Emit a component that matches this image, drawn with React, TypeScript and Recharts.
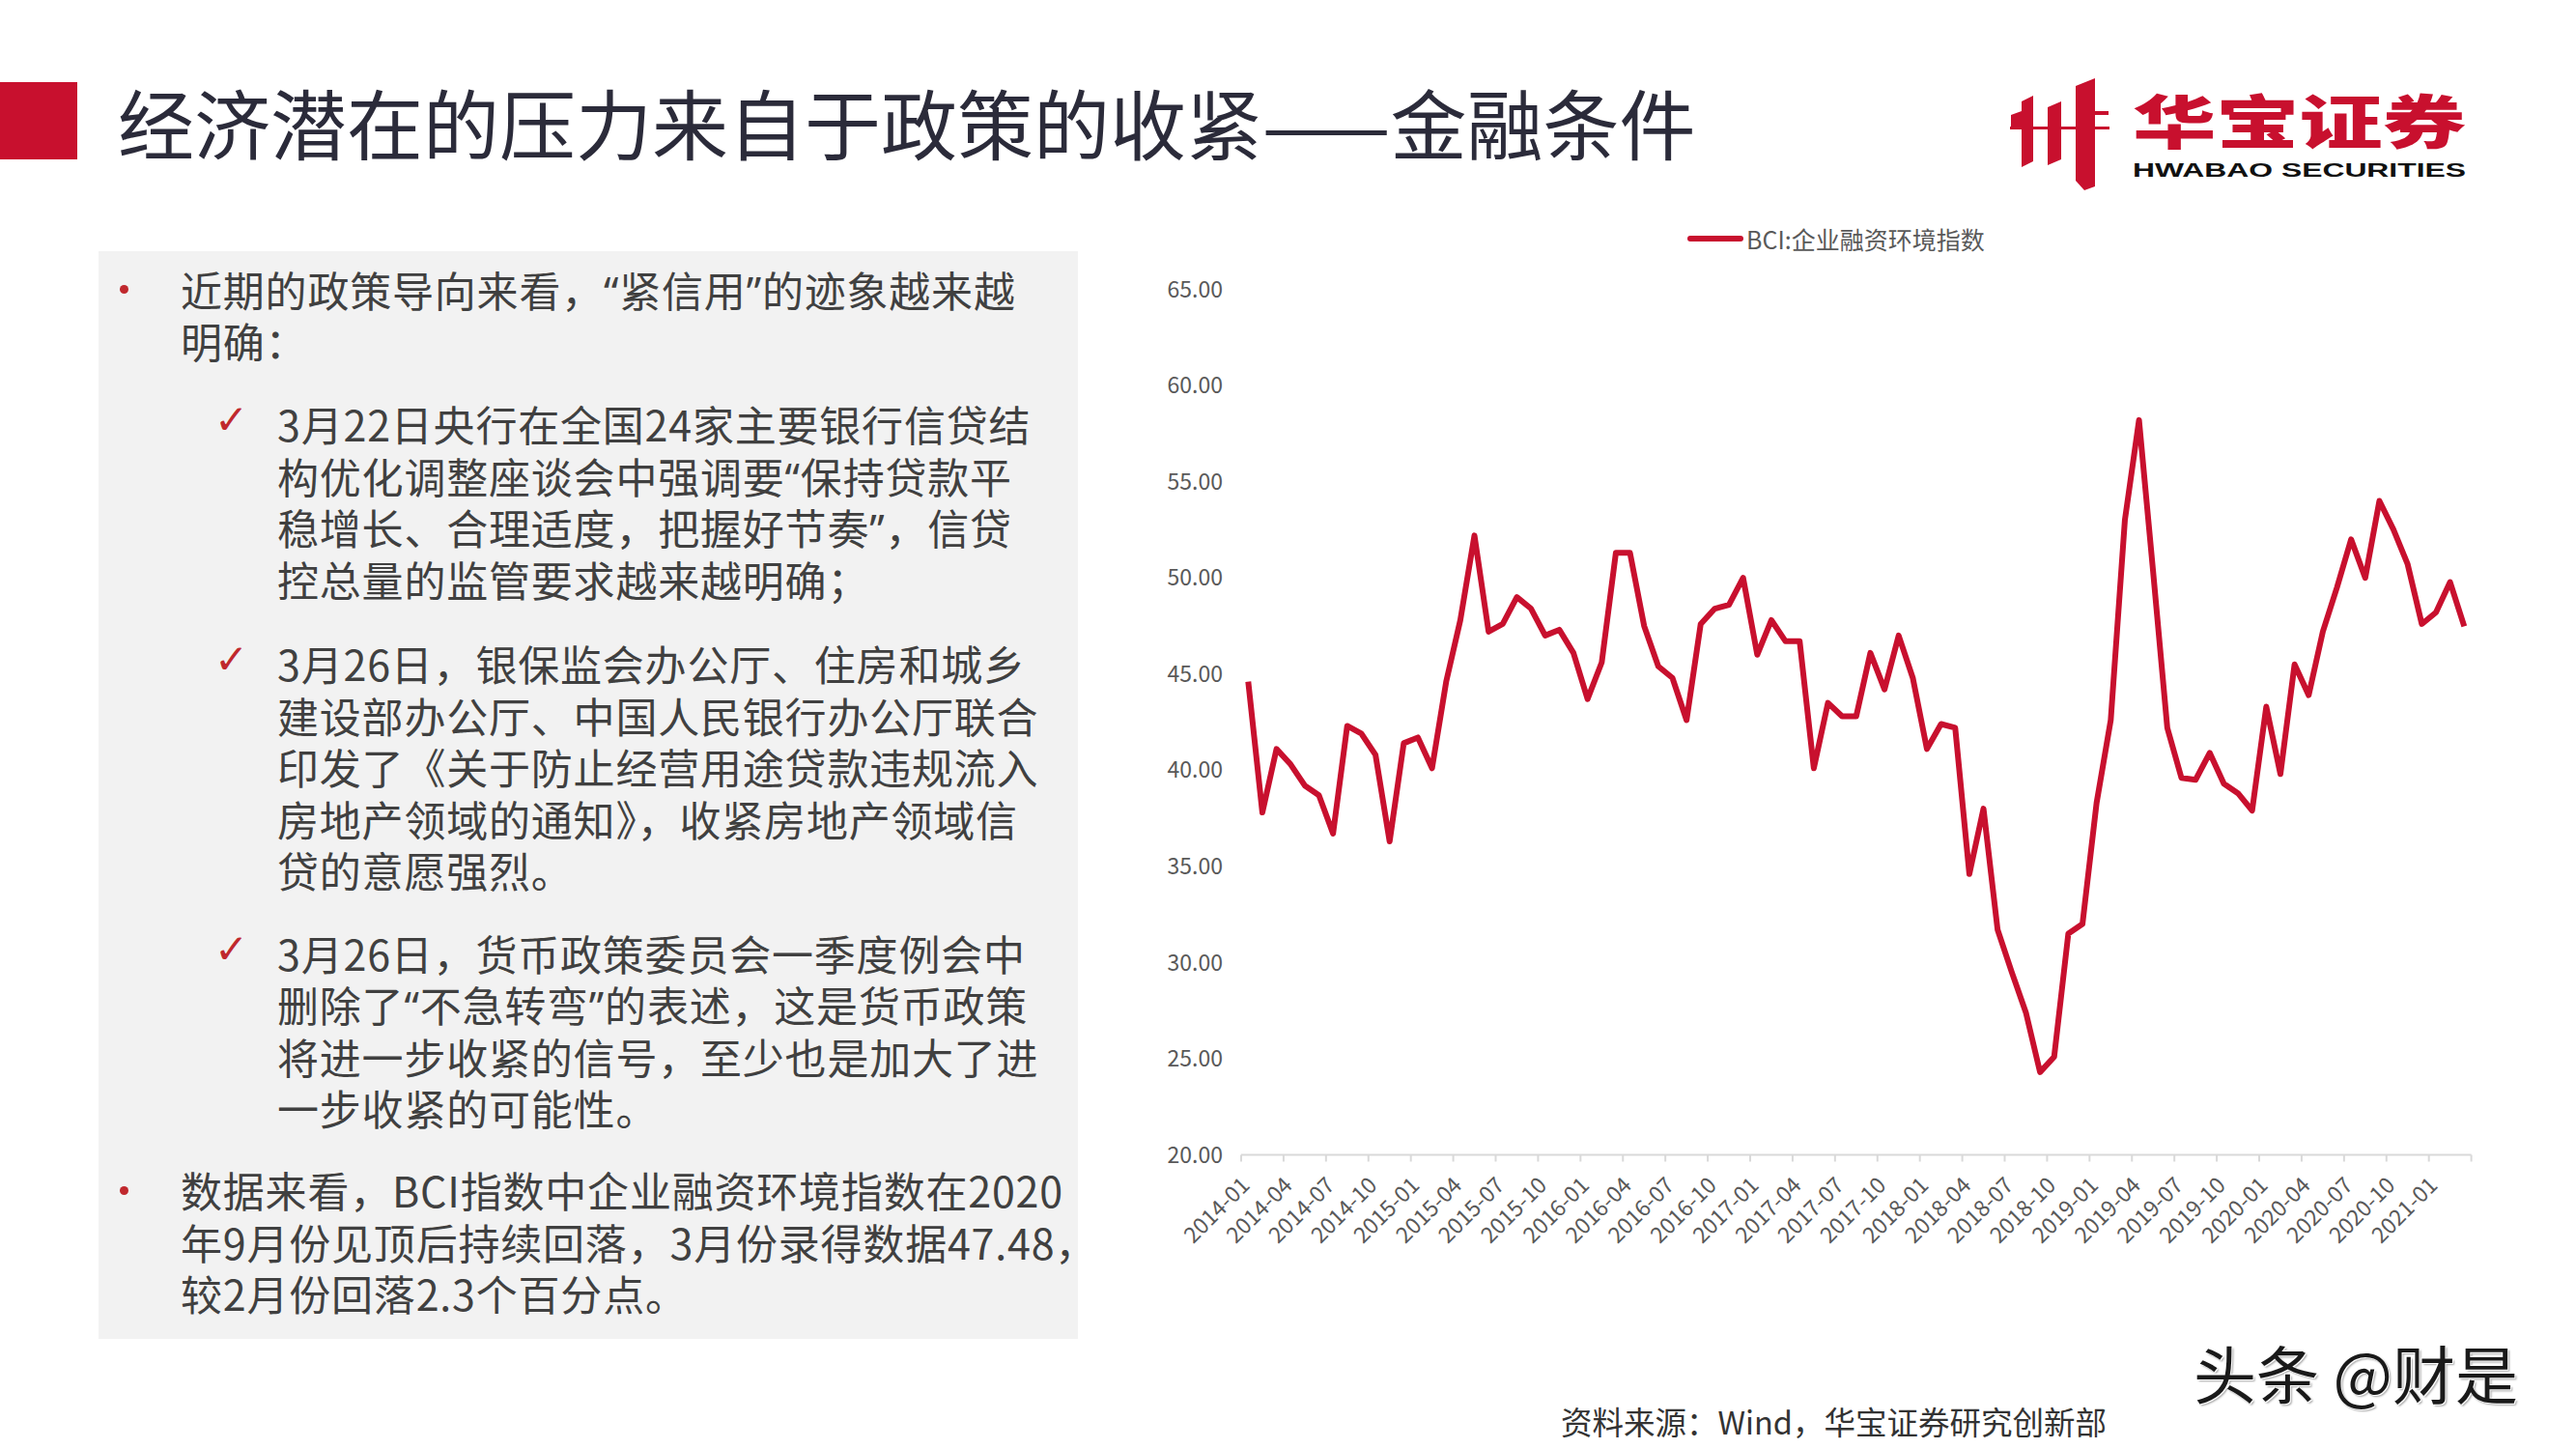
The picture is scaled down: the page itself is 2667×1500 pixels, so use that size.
import { LineChart, Line, XAxis, YAxis, Legend } from 'recharts'

const months = [
  '2014-01', '2014-02', '2014-03', '2014-04', '2014-05', '2014-06', '2014-07', '2014-08', '2014-09', '2014-10', '2014-11', '2014-12',
  '2015-01', '2015-02', '2015-03', '2015-04', '2015-05', '2015-06', '2015-07', '2015-08', '2015-09', '2015-10', '2015-11', '2015-12',
  '2016-01', '2016-02', '2016-03', '2016-04', '2016-05', '2016-06', '2016-07', '2016-08', '2016-09', '2016-10', '2016-11', '2016-12',
  '2017-01', '2017-02', '2017-03', '2017-04', '2017-05', '2017-06', '2017-07', '2017-08', '2017-09', '2017-10', '2017-11', '2017-12',
  '2018-01', '2018-02', '2018-03', '2018-04', '2018-05', '2018-06', '2018-07', '2018-08', '2018-09', '2018-10', '2018-11', '2018-12',
  '2019-01', '2019-02', '2019-03', '2019-04', '2019-05', '2019-06', '2019-07', '2019-08', '2019-09', '2019-10', '2019-11', '2019-12',
  '2020-01', '2020-02', '2020-03', '2020-04', '2020-05', '2020-06', '2020-07', '2020-08', '2020-09', '2020-10', '2020-11', '2020-12',
  '2021-01', '2021-02', '2021-03',
]

// BCI:企业融资环境指数
const bciValues = [
  44.6, 37.8, 41.1, 40.3, 39.2, 38.7, 36.7, 42.3, 41.9, 40.8, 36.3, 41.4,
  41.7, 40.1, 44.6, 47.8, 52.2, 47.2, 47.6, 49.0, 48.4, 47.0, 47.3, 46.1,
  43.7, 45.6, 51.3, 51.3, 47.5, 45.4, 44.8, 42.6, 47.6, 48.4, 48.6, 50.0,
  46.0, 47.8, 46.7, 46.7, 40.1, 43.5, 42.8, 42.8, 46.1, 44.2, 47.0, 44.8,
  41.1, 42.4, 42.2, 34.6, 38.0, 31.7, 29.5, 27.4, 24.3, 25.1, 31.5, 32.0,
  38.3, 42.6, 53.0, 58.2, 50.3, 42.2, 39.6, 39.5, 40.9, 39.3, 38.8, 37.9,
  43.3, 39.8, 45.5, 43.9, 47.2, 49.5, 52.0, 50.0, 54.0, 52.5, 50.7, 47.6,
  48.2, 49.78, 47.48,
]

const yTicks = [20, 25, 30, 35, 40, 45, 50, 55, 60, 65]

const seriesName = 'BCI:企业融资环境指数'

const bullet1 = ['近期的政策导向来看，“紧信用”的迹象越来越', '明确：']
const check1 = [
  '3月22日央行在全国24家主要银行信贷结',
  '构优化调整座谈会中强调要“保持贷款平',
  '稳增长、合理适度，把握好节奏”，信贷',
  '控总量的监管要求越来越明确；',
]
const check2 = [
  '3月26日，银保监会办公厅、住房和城乡',
  '建设部办公厅、中国人民银行办公厅联合',
  '印发了《关于防止经营用途贷款违规流入',
  '房地产领域的通知》，收紧房地产领域信',
  '贷的意愿强烈。',
]
const check3 = [
  '3月26日，货币政策委员会一季度例会中',
  '删除了“不急转弯”的表述，这是货币政策',
  '将进一步收紧的信号，至少也是加大了进',
  '一步收紧的可能性。',
]
const bullet2 = [
  '数据来看，BCI指数中企业融资环境指数在2020',
  '年9月份见顶后持续回落，3月份录得数据47.48，',
  '较2月份回落2.3个百分点。',
]

const RED = '#C8102E'
const TEXT = '#404040'
const AXIS_TEXT = '#595959'
const FONT = '"Noto Sans CJK SC", "Noto Sans", sans-serif'

const CHART_W = 1450
const CHART_H = 1130
const Y_W = 135
const MARGIN_R = 41.4
const HALF_BAND = (CHART_W - Y_W - MARGIN_R) / months.length / 2
const LINE_H = 53.5

const data = months.map((m, i) => ({ idx: i, month: m, bci: bciValues[i] }))
const xTicks = months
  .map((_, i) => i - 0.5)
  .filter((_, i) => i % 3 === 0)
  .concat(months.length - 0.5)

function MonthTick({ x, y, payload }: any) {
  const label = months[Math.round(payload.value + 0.5)]
  if (!label) return null
  return (
    <text
      transform={`translate(${x + HALF_BAND + 3},${y + 24}) rotate(-45)`}
      textAnchor="end"
      fontSize={23}
      fill={AXIS_TEXT}
    >
      {label}
    </text>
  )
}

function renderLegend(props: any) {
  const item = props.payload?.[0]
  return (
    <div style={{ display: 'flex', alignItems: 'center', height: 36 }}>
      <span style={{ width: 58, height: 6, borderRadius: 3, background: item?.color ?? RED }} />
      <span style={{ fontSize: 25, color: AXIS_TEXT, marginLeft: 3 }}>{item?.value}</span>
    </div>
  )
}

// curly quotes are narrow in the original, so set them in a latin face
function withNarrowQuotes(line: string) {
  return line.split(/([“”])/).map((part, i) =>
    part === '“' || part === '”' ? (
      <span key={i} style={{ fontFamily: '"Noto Sans"', lineHeight: 1 }}>
        {part}
      </span>
    ) : (
      part
    ),
  )
}

function Para({ lines, top, left, marker }: { lines: string[]; top: number; left: number; marker: 'dot' | 'check' }) {
  return (
    <div style={{ position: 'absolute', top, left: 0 }}>
      {marker === 'dot' ? (
        <span
          style={{
            position: 'absolute',
            left: 124,
            top: LINE_H / 2 - 4.5,
            width: 9,
            height: 9,
            borderRadius: '50%',
            background: '#C0282D',
          }}
        />
      ) : (
        <span
          style={{
            position: 'absolute',
            left: 222,
            top: 2,
            fontFamily: '"DejaVu Sans"',
            fontSize: 42,
            lineHeight: '42px',
            color: '#C0282D',
          }}
        >
          ✓
        </span>
      )}
      {lines.map((l) => (
        <div
          key={l}
          style={{
            position: 'relative',
            left,
            height: LINE_H,
            lineHeight: `${LINE_H}px`,
            fontSize: 43,
            letterSpacing: 0.8,
            color: TEXT,
            whiteSpace: 'nowrap',
          }}
        >
          {withNarrowQuotes(l)}
        </div>
      ))}
    </div>
  )
}

function Logo() {
  return (
    <svg width={500} height={125} style={{ position: 'absolute', left: 2070, top: 75 }}>
      <g fill={RED}>
        <rect x={11} y={56} width={103} height={3} />
        <polygon points="23,30 35,24 35,92 23,98" />
        <polygon points="12,44 23,40 23,56 12,56" />
        <polygon points="50,36 64,30 64,90 50,96" />
        <polygon points="79,14 99,6 99,118 88,122 79,112" />
        <rect x={99} y={40} width={14} height={4} />
      </g>
      <text
        x={138}
        y={74}
        fontSize={60}
        fontWeight={900}
        fill={RED}
        textLength={345}
        lengthAdjust="spacingAndGlyphs"
      >
        华宝证券
      </text>
      <text
        x={138}
        y={108}
        fontFamily='"Liberation Sans"'
        fontSize={21}
        fontWeight={700}
        fill="#111"
        textLength={345}
        lengthAdjust="spacingAndGlyphs"
      >
        HWABAO SECURITIES
      </text>
    </svg>
  )
}

export default function App() {
  return (
    <div
      style={{
        position: 'absolute',
        left: 0,
        top: 0,
        width: 2667,
        height: 1500,
        background: '#fff',
        fontFamily: FONT,
        overflow: 'hidden',
      }}
    >
      <div style={{ position: 'absolute', left: 0, top: 85, width: 80, height: 80, background: RED }} />
      <div
        style={{
          position: 'absolute',
          left: 122,
          top: 76,
          height: 100,
          lineHeight: '100px',
          fontSize: 79,
          color: '#2B2B3A',
          whiteSpace: 'nowrap',
        }}
      >
        经济潜在的压力来自于政策的收紧——金融条件
      </div>
      <Logo />

      <div style={{ position: 'absolute', left: 102, top: 260, width: 1014, height: 1126, background: '#F2F2F2' }} />
      <Para lines={bullet1} top={299.5 - LINE_H / 2} left={187} marker="dot" />
      <Para lines={check1} top={439 - LINE_H / 2} left={287} marker="check" />
      <Para lines={check2} top={687 - LINE_H / 2} left={287} marker="check" />
      <Para lines={check3} top={986.5 - LINE_H / 2} left={287} marker="check" />
      <Para lines={bullet2} top={1232 - LINE_H / 2} left={187} marker="dot" />

      <div style={{ position: 'absolute', left: 1150, top: 220 }}>
        <LineChart
          width={CHART_W}
          height={CHART_H}
          data={data}
          margin={{ top: 43.5, right: MARGIN_R, bottom: 34.5, left: 0 }}
        >
          <Legend
            verticalAlign="top"
            align="left"
            content={renderLegend}
            wrapperStyle={{ top: 9, left: 597, width: 'auto' }}
          />
          <XAxis
            dataKey="idx"
            type="number"
            domain={[-0.5, months.length - 0.5]}
            ticks={xTicks}
            interval={0}
            height={120}
            tickSize={7}
            axisLine={{ stroke: '#D9D9D9', strokeWidth: 2 }}
            tickLine={{ stroke: '#D9D9D9', strokeWidth: 2 }}
            tick={<MonthTick />}
          />
          <YAxis
            type="number"
            domain={[20, 65]}
            ticks={yTicks}
            width={Y_W}
            axisLine={false}
            tickLine={false}
            tickMargin={13}
            tickFormatter={(v: number) => v.toFixed(2)}
            tick={{ fontSize: 23, fill: AXIS_TEXT }}
          />
          <Line
            name={seriesName}
            type="linear"
            dataKey="bci"
            stroke={RED}
            strokeWidth={6}
            strokeLinejoin="round"
            dot={false}
            activeDot={false}
            isAnimationActive={false}
          />
        </LineChart>
      </div>

      <div
        style={{
          position: 'absolute',
          left: 2271,
          top: 1380,
          fontSize: 65,
          lineHeight: '80px',
          color: '#1A1A1A',
          whiteSpace: 'nowrap',
          textShadow: '1px 1px 0 #fff, -1px -1px 0 #fff, 2px 2px 2px rgba(0,0,0,0.35)',
        }}
      >
        头条 @财是
      </div>
      <div
        style={{
          position: 'absolute',
          left: 1616,
          top: 1450,
          fontSize: 32.5,
          lineHeight: '42px',
          color: '#333',
          whiteSpace: 'nowrap',
        }}
      >
        资料来源：Wind，华宝证券研究创新部
      </div>
    </div>
  )
}
